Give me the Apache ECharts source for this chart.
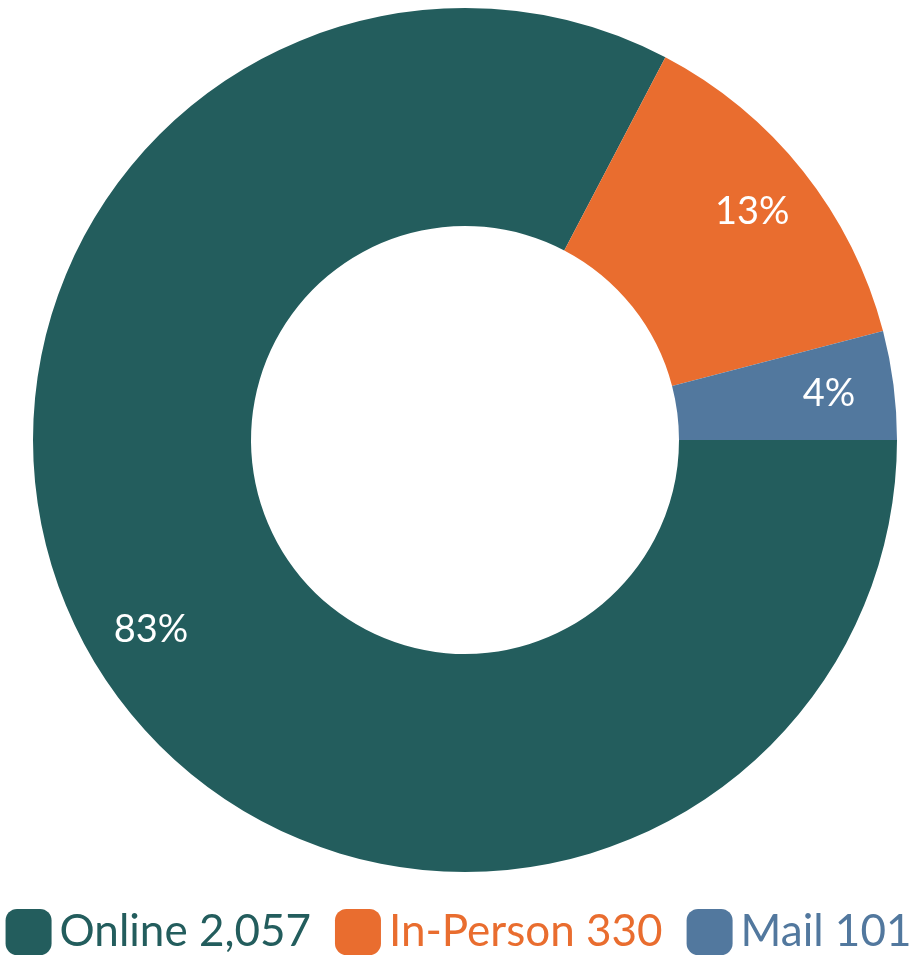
<!DOCTYPE html>
<html>
<head>
<meta charset="utf-8">
<script src="https://cdn.jsdelivr.net/npm/echarts@6/dist/echarts.min.js"></script>
<style>
  html, body { margin: 0; padding: 0; background: #fff; }
  #main { width: 917px; height: 955px; }
</style>
</head>
<body>
<div id="main"></div>
<script>
// data
const categories = ['Online', 'In-Person', 'Mail'];
const counts = [2057, 330, 101];
const colors = ['#235d5d', '#e96d2f', '#52789e'];

const chart = echarts.init(document.getElementById('main'));

const pieData = categories.map((name, i) => ({
  name: name,
  value: counts[i],
  itemStyle: { color: colors[i] }
}));

// legend text takes the colour of its slice
const legendData = categories.map((name, i) => ({
  name: name,
  textStyle: { color: colors[i] }
}));

const option = {
  animation: false,
  textStyle: { fontFamily: 'Lato' },
  legend: {
    data: legendData,
    left: 'center',
    top: 909,
    icon: 'roundRect',
    itemWidth: 46,
    itemHeight: 46,
    itemGap: 24,
    padding: 0,
    textStyle: { fontSize: 44, fontFamily: 'Lato', padding: [0, 0, 0, 3] },
    formatter: function (name) {
      const i = categories.indexOf(name);
      return name + ' ' + counts[i].toLocaleString('en-US');
    }
  },
  series: [
    {
      // the donut itself
      type: 'pie',
      center: [465, 440],
      radius: [214, 432],
      startAngle: 0,
      clockwise: true,
      silent: true,
      label: { show: false },
      labelLine: { show: false },
      data: pieData
    },
    {
      // invisible ring that only carries the percent labels further out
      type: 'pie',
      center: [465, 440],
      radius: [296, 432],
      startAngle: 0,
      clockwise: true,
      silent: true,
      itemStyle: { color: 'transparent' },
      labelLine: { show: false },
      label: {
        show: true,
        position: 'inside',
        color: '#fff',
        fontSize: 38,
        fontFamily: 'Lato',
        fontWeight: 'normal',
        formatter: function (p) { return Math.round(p.percent) + '%'; }
      },
      data: categories.map((name, i) => ({ name: name, value: counts[i] }))
    }
  ]
};

chart.setOption(option);
</script>
</body>
</html>
